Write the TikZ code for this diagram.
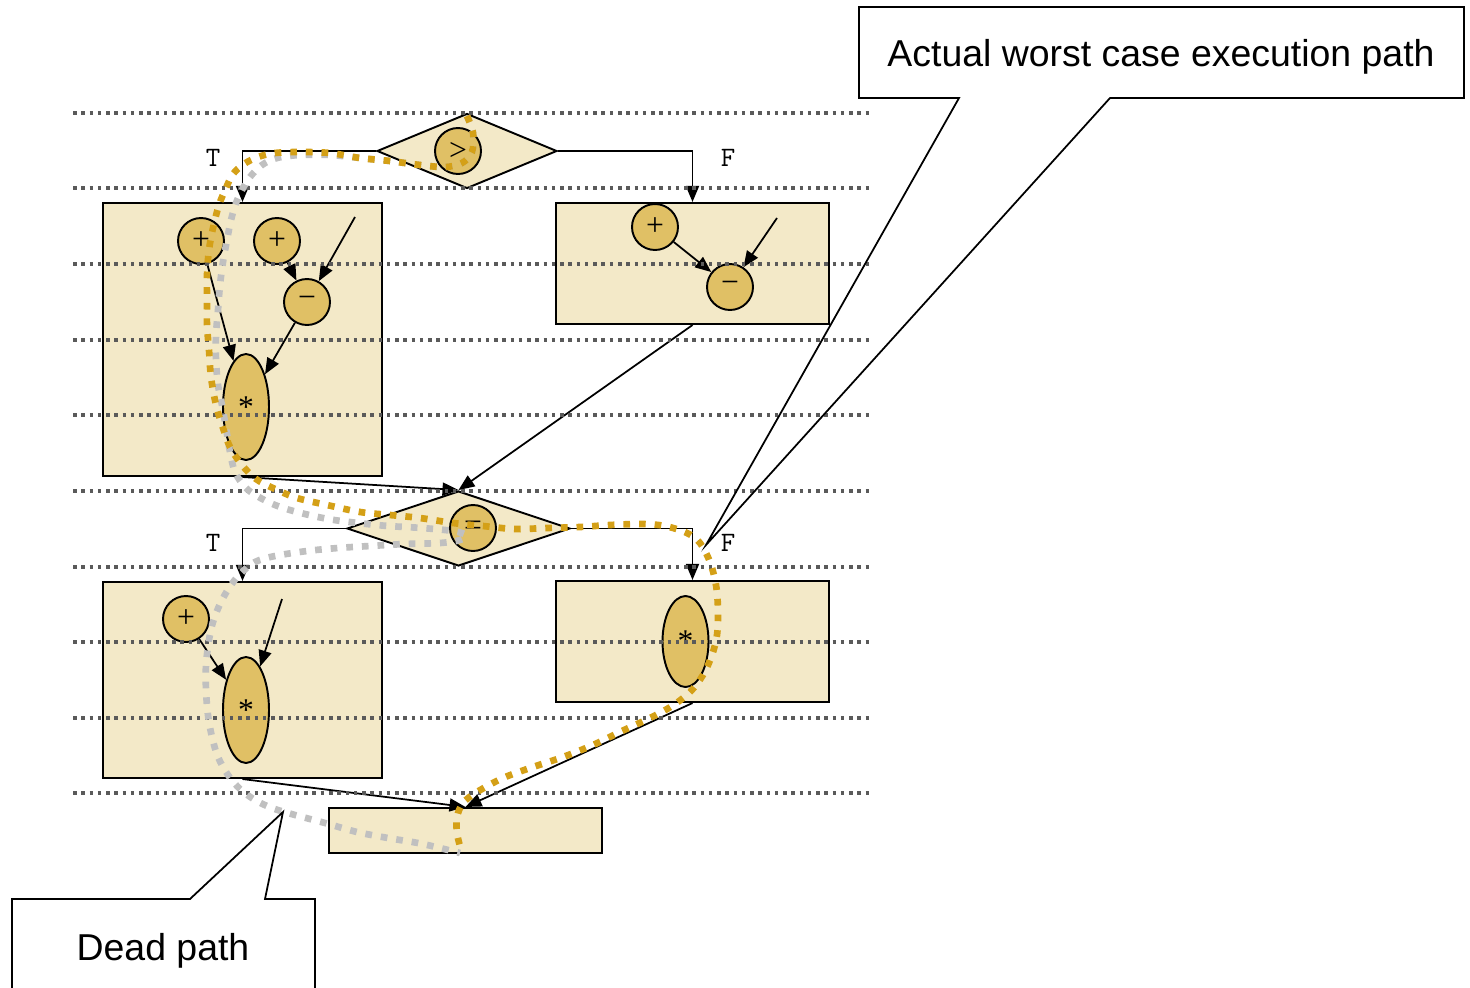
\documentclass[tikz,border=0pt]{standalone}
\usepackage{fontspec}
\setmainfont{Liberation Serif}
\newfontfamily\arialf{Liberation Sans}
\usetikzlibrary{shapes.geometric,arrows.meta}
\definecolor{boxfill}{HTML}{F3E9C8}
\definecolor{opfill}{HTML}{E0C065}
\definecolor{wcet}{HTML}{D4A017}
\definecolor{deadc}{HTML}{C0C0C0}
\definecolor{gridc}{HTML}{5A5A5A}
\newcommand{\minusop}{\raisebox{-0.1cm}{−}}
\newcommand{\mulop}{\raisebox{-0.08cm}{*}}
\tikzset{
 blk/.style={draw=black, line width=1.2pt, fill=boxfill, inner sep=0pt},
 op/.style={circle, draw=black, line width=1.1pt, fill=opfill, minimum size=0.92cm, inner sep=0pt, font=\fontsize{18}{18}\selectfont},
 opell/.style={ellipse, draw=black, line width=1.1pt, fill=opfill, inner sep=0pt, minimum width=0.92cm, font=\fontsize{18}{18}\selectfont},
 cond/.style={diamond, draw=black, line width=1.1pt, fill=boxfill, inner sep=0pt},
 arr/.style={draw=black, line width=1pt, -{Triangle[length=0.32cm,width=0.26cm]}},
 gridln/.style={draw=gridc, line width=2pt, dash pattern=on 2pt off 2.7pt},
 tf/.style={font=\ttfamily\fontsize{16}{16}\selectfont, inner sep=0pt},
 callout/.style={draw=black, line width=1pt},
 ctext/.style={font=\arialf\fontsize{21.3}{21.3}\selectfont, inner sep=0pt},
 wpath/.style={draw=wcet, line width=3.8pt, dash pattern=on 3.8pt off 5.1pt},
 dpath/.style={draw=deadc, line width=3.8pt, dash pattern=on 3.8pt off 5.1pt},
}
\begin{document}
\begin{tikzpicture}[x=0.02cm,y=-0.02cm]
\useasboundingbox (0,0) rectangle (1470,987);
% blocks
\node[blk, minimum width=5.58cm, minimum height=5.46cm] (b1) at (242.5,339.5) {};
\node[blk, minimum width=5.46cm, minimum height=2.42cm] (b2) at (692.5,263.5) {};
\node[blk, minimum width=5.58cm, minimum height=3.92cm] (b3) at (242.5,680) {};
\node[blk, minimum width=5.46cm, minimum height=2.42cm] (b4) at (692.5,641.5) {};
\node[blk, minimum width=5.46cm, minimum height=0.9cm] (b5) at (465.5,830.5) {};
% conditions
\node[cond, minimum width=3.6cm, minimum height=1.5cm] (d1) at (467,151) {};
\node[op] (c1) at (458,151) {>};
\node[cond, minimum width=4.46cm, minimum height=1.5cm] (d2) at (458.5,528.5) {};
\node[op] (c2) at (473,528) {=};
% block 1
\node[op] (p1) at (201,241) {+};
\node[op] (p2) at (277,241) {+};
\node[op] (m1) at (307,302) {\minusop};
\node[opell, minimum height=2.12cm] (e1) at (246,407) {\mulop};
\coordinate (s1) at (355,217);
\draw[arr] (p1) -- (e1);
\draw[arr] (p2) -- (m1);
\draw[arr] (s1) -- (m1);
\draw[arr] (m1) -- (e1);
% block 2
\node[op] (p3) at (655,227) {+};
\node[op] (m2) at (730,287) {\minusop};
\coordinate (s2) at (777,218);
\draw[arr] (p3) -- (m2);
\draw[arr] (s2) -- (m2);
% block 3
\node[op] (p4) at (186,619) {+};
\node[opell, minimum height=2.12cm] (e2) at (246,710) {\mulop};
\coordinate (s3) at (282,599);
\draw[arr] (p4) -- (e2);
\draw[arr] (s3) -- (e2);
% block 4
\node[opell, minimum height=1.82cm] (e3) at (685.5,641.5) {\mulop};
% control flow
\draw[arr] (d1.west) -| (b1.north);
\draw[arr] (d1.east) -| (b2.north);
\draw[arr] (d2.west) -| (b3.north);
\draw[arr] (d2.east) -| (b4.north);
\draw[arr] (b1.south) -- (d2.north);
\draw[arr] (b2.south) -- (d2.north);
\draw[arr] (b3.south) -- (b5.north);
\draw[arr] (b4.south) -- (b5.north);
% labels
\node[tf] (t1) at (213,158) {T};
\node[tf] (f1) at (728,158) {F};
\node[tf] (t2) at (213,543) {T};
\node[tf] (f2) at (728,543) {F};
% grid lines
\foreach \yy in {113,188,264,340,415,491,567,642,718,793}
  \draw[gridln] (73,\yy) -- (871,\yy);
% dead path
\draw[dpath] plot[smooth, tension=0.55] coordinates {(467,116) (473,133) (472,152) (462,163) (445,167) (420,165) (390,161) (360,158) (330,155) (300,155) (277,158) (262,165) (250,177) (242,190) (236,203) (231,220) (227,240) (223,262) (220,285) (218,310) (216,335) (216,360) (218,385) (222,405) (226,428) (230,452) (235,472) (245,487) (257,496) (275,505) (297,512) (328,519) (358,523) (388,526) (422,528) (453,531) (466,535) (460,540) (440,543) (405,544) (370,546) (338,548) (307,551) (275,556) (255,562) (240,574) (229,588) (220,604) (213,622) (209,640) (206,665) (206,690) (208,715) (212,737) (218,757) (228,775) (240,789) (255,800) (272,808) (295,815) (325,823) (357,832) (388,838) (418,843) (440,848) (460,853)};
% worst case path
\draw[wpath] plot[smooth, tension=0.55] coordinates {(467,116) (473,133) (472,152) (462,163) (445,167) (420,165) (390,161) (360,158) (330,153) (300,152) (275,153) (258,157) (244,164) (233,174) (226,188) (219,205) (213,228) (209,250) (207,275) (207,300) (207,325) (209,350) (211,377) (216,405) (222,425) (230,447) (242,465) (256,479) (275,489) (297,498) (327,505) (360,512) (390,515) (420,518) (453,523) (483,526) (515,529) (547,528) (580,527) (610,525) (642,524) (665,526) (687,533) (700,543) (710,562) (716,585) (718,610) (717,635) (712,655) (703,675) (690,692) (672,706) (650,718) (622,731) (593,745) (563,757) (533,767) (503,778) (477,792) (463,803) (457,817) (457,833) (461,850)};
% callouts
\coordinate (k1) at (706,545);
\draw[callout] (959,98) -- (k1) -- (1110,98) -- (1464,98) -- (1464,7) -- (859,7) -- (859,98) -- cycle;
\node[ctext] (n1) at (1161,57) {Actual worst case execution path};
\coordinate (k2) at (283,812);
\draw[callout] (190,899) -- (k2) -- (265,899) -- (315,899) -- (315,1000) -- (12,1000) -- (12,899) -- cycle;
\node[ctext] (n2) at (163,951) {Dead path};
\end{tikzpicture}
\end{document}
